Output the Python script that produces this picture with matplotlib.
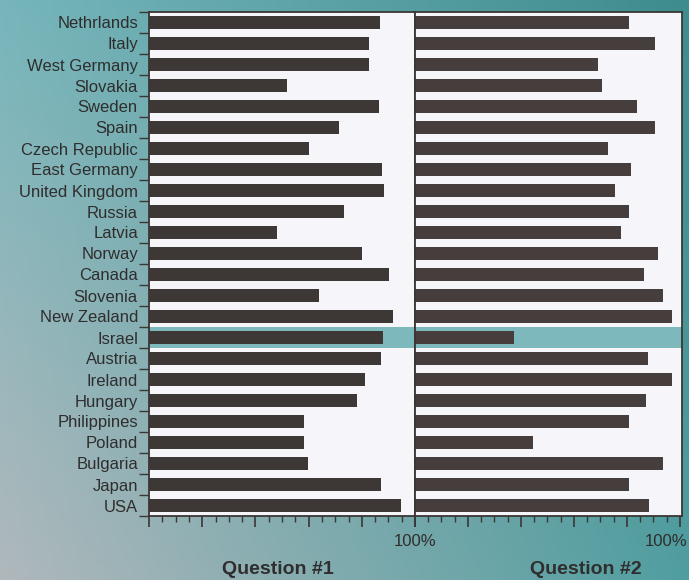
import numpy as np
import matplotlib.pyplot as plt
import matplotlib.transforms as mtransforms

# --- data ---
countries = ["Nethrlands", "Italy", "West Germany", "Slovakia", "Sweden", "Spain",
             "Czech Republic", "East Germany", "United Kingdom", "Russia", "Latvia",
             "Norway", "Canada", "Slovenia", "New Zealand", "Israel", "Austria",
             "Ireland", "Hungary", "Philippines", "Poland", "Bulgaria", "Japan", "USA"]
question1 = [86.8, 82.8, 82.8, 51.7, 86.6, 71.5, 60.2, 87.7, 88.3, 73.3, 48.1, 80.2,
             90.3, 64.0, 91.6, 88.0, 87.4, 81.2, 78.3, 58.3, 58.3, 59.9, 87.2, 94.7]
question2 = [80.9, 90.7, 69.0, 70.6, 83.8, 90.7, 72.7, 81.5, 75.6, 80.9, 77.7, 91.6,
             86.5, 93.8, 97.2, 37.5, 88.0, 97.2, 87.3, 80.9, 44.6, 93.6, 80.9, 88.3]
panel_titles = ["Question #1", "Question #2"]
highlight = "Israel"

plt.rcParams['font.family'] = ['Liberation Sans', 'DejaVu Sans']

W, H = 689, 580
fig = plt.figure(figsize=(W / 100, H / 100), dpi=100)

# teal background, lighter toward the lower left
bg = fig.add_axes([0, 0, 1, 1], zorder=-10)
tl = np.array([118, 182, 187]) / 255
tr = np.array([62, 140, 142]) / 255
bl = np.array([176, 184, 188]) / 255
br = np.array([80, 158, 160]) / 255
u = np.linspace(0, 1, 200)[None, :, None]
v = np.linspace(0, 1, 170)[:, None, None]
grad = (1 - v) * ((1 - u) * tl + u * tr) + v * ((1 - u) * bl + u * br)
bg.imshow(grad, aspect='auto', extent=[0, 1, 0, 1], origin='upper')
bg.set_axis_off()

ink = '#3a3634'
text_col = '#2f2d2d'
bar_colors = ['#3d3735', '#463e3d']
panel_bg = '#f6f5f9'
band_color = '#7db9bc'

ax_bottom = (H - 516) / H
ax_height = 504 / H
ax1 = fig.add_axes([149 / W, ax_bottom, 266 / W, ax_height])
ax2 = fig.add_axes([415 / W, ax_bottom, 267 / W, ax_height])

y = np.arange(len(countries))
hi = countries.index(highlight)

for ax, vals, xmax in [(ax1, question1, 100), (ax2, question2, 100.8)]:
    ax.set_facecolor(panel_bg)
    ax.axhspan(hi - 0.5, hi + 0.5, color=band_color, lw=0, zorder=1)
    ax.barh(y, vals, height=0.58, color=bar_colors[ax is ax2], zorder=2)
    ax.set_xlim(0, xmax)
    ax.set_ylim(len(countries) - 0.5, -0.5)
    for s in ax.spines.values():
        s.set_color(ink)
        s.set_linewidth(1.3)
    ax.set_xticks(np.arange(0, 101, 20))
    ax.set_xticks(np.arange(0, 101, 5), minor=True)
    ax.set_xticklabels(['', '', '', '', '', '100%'])
    ax.tick_params(axis='x', which='major', length=8, width=1.2, color=ink,
                   labelsize=12, labelcolor=text_col, pad=5)
    ax.tick_params(axis='x', which='minor', length=4, width=1.0, color=ink)

# row labels on the left panel, tick marks at the row boundaries
ax1.set_yticks(y)
ax1.set_yticklabels(countries)
ax1.set_yticks(np.arange(len(countries) + 1) - 0.5, minor=True)
ax1.tick_params(axis='y', which='major', length=0, pad=8, labelsize=12,
                labelcolor=text_col)
ax1.tick_params(axis='y', which='minor', length=7, width=1.0, color=ink)
ax2.set_yticks([])

# shift the right-hand 100% label so it stays inside the figure
shift = mtransforms.ScaledTranslation(-14 / 100, 0, fig.dpi_scale_trans)
lab = ax2.get_xticklabels()[-1]
lab.set_transform(lab.get_transform() + shift)

for ax, title, xc in [(ax1, panel_titles[0], 0.485), (ax2, panel_titles[1], 0.64)]:
    ax.set_xlabel(title, fontsize=14, fontweight='bold', color=text_col)
    ax.xaxis.set_label_coords(xc, -0.09)

fig.savefig('out.png', dpi=100)
